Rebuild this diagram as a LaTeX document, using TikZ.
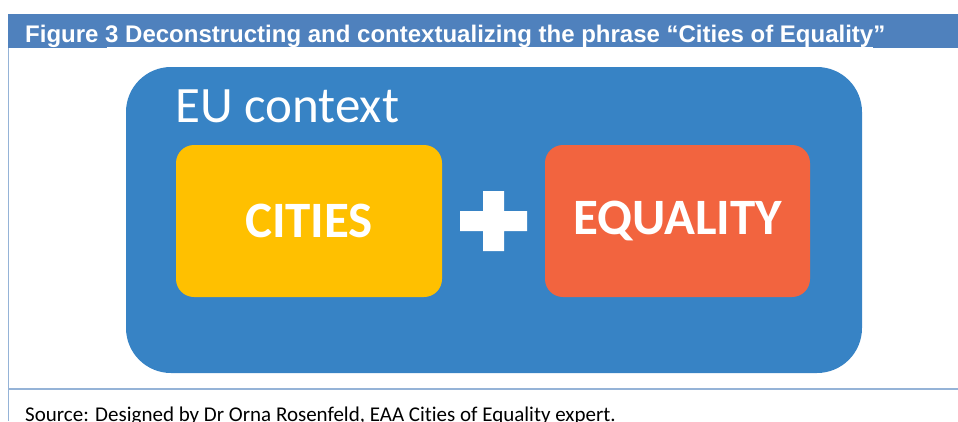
\documentclass[tikz,border=0pt]{standalone}
\usepackage{fontspec}
\setmainfont{Carlito}[Ligatures=NoCommon]
\newfontfamily\captionfont{Liberation Sans}
\definecolor{barblue}{HTML}{4F81BD}
\definecolor{rulebl}{HTML}{95B3D7}
\definecolor{ctxblue}{HTML}{3783C5}
\definecolor{cityyel}{HTML}{FFC000}
\definecolor{eqred}{HTML}{F2643F}
\tikzset{
  wordbox/.style={rounded corners=18pt, text=white, inner sep=0pt,
    minimum width=266pt, minimum height=152pt,
    font=\bfseries\fontsize{51}{51}\selectfont},
}
\begin{document}
\begin{tikzpicture}[x=1pt,y=-1pt]
  \useasboundingbox (0,0) rectangle (958,421);
  % caption bar and frame
  \fill[barblue] (8,14) rectangle (958,48);
  \draw[white,line width=1pt] (107,47.6)--(873,47.6);
  \node[anchor=base west,inner sep=0pt,text=white,
    font=\captionfont\bfseries\fontsize{24}{24}\selectfont] (title) at (25,42)
    {Figure 3 Deconstructing and contextualizing the phrase “Cities of Equality”};
  \draw[rulebl,line width=1.2pt] (8.5,48)--(8.5,421) (8.5,389)--(958,389);
  % context box
  \fill[ctxblue,rounded corners=45pt] (126,67) rectangle (862,373);
  \node[anchor=base west,inner sep=0pt,text=white,
    font=\fontsize{51}{51}\selectfont] (ctx) at (175,122) {EU context};
  \node[wordbox,fill=cityyel] (cities) at (309,221) {CITIES};
  \node[wordbox,fill=eqred,minimum width=265pt] (equality) at (677.5,221) {EQUALITY};
  % plus sign
  \fill[white] (483,191) rectangle (504,251) (460,211) rectangle (527,231);
  % source line
  \node[anchor=base west,inner sep=0pt,font=\fontsize{21}{21}\selectfont] (src) at (25,421.5)
    {Source: Designed by Dr Orna Rosenfeld, EAA Cities of Equality expert.};
\end{tikzpicture}
\end{document}
